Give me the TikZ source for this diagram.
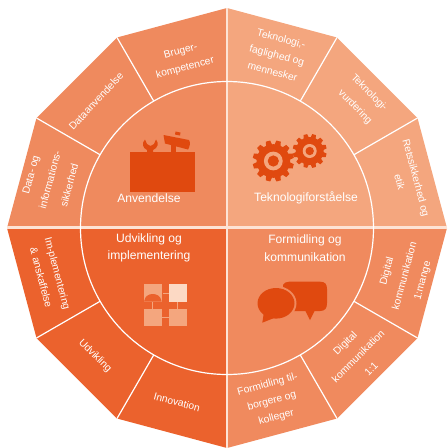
\documentclass[tikz,border=0pt]{standalone}
\usepackage{fontspec}
\setmainfont{Liberation Sans}
\usetikzlibrary{calc}
\definecolor{qa}{HTML}{EF8A5E}
\definecolor{qb}{HTML}{F4A67E}
\definecolor{qc}{HTML}{EB622D}
\definecolor{qd}{HTML}{F08A5E}
\definecolor{ic}{HTML}{E0490F}
\definecolor{pa}{HTML}{F4A67E}
\definecolor{pb}{HTML}{FCD9C4}
\definecolor{band}{HTML}{FDE3D5}
\tikzset{
  sep/.style={draw=white,line width=1.2pt},
  lab/.style={text=white,font=\fontsize{10.3}{17}\selectfont,align=center,inner sep=0pt},
  labm/.style={text=white,font=\fontsize{10.3}{18.5}\selectfont,align=center,inner sep=0pt},
  labw/.style={text=white,font=\fontsize{10.3}{20}\selectfont,align=center,inner sep=0pt},
  big/.style={text=white,font=\fontsize{12.1}{17.5}\selectfont,align=center,inner sep=0pt},
}
\newcommand{\mygear}[4]{% cx cy outer body
  \fill[ic] (#1,#2) circle (#4);
  \foreach \t in {0,30,...,330}{
    \fill[ic,shift={(#1,#2)},rotate=\t+15,line join=round] (-#3*0.16,-#4*0.9) -- (-#3*0.11,-#3) -- (#3*0.11,-#3) -- (#3*0.16,-#4*0.9) -- cycle;
  }
}
\begin{document}
\begin{tikzpicture}[x=1pt,y=-1pt]
\useasboundingbox (0,0) rectangle (448,448);
\coordinate (c) at (227,228);
% quarters
\fill[qa] (c)--(7,228)--(36.5,118)--(117,37.5)--(227,8)--cycle;
\fill[qb] (c)--(227,8)--(337,37.5)--(417.5,118)--(447,228)--cycle;
\fill[qc] (c)--(7,228)--(36.5,338)--(117,418.5)--(227,448)--cycle;
\fill[qd] (c)--(227,448)--(337,418.5)--(417.5,338)--(447,228)--cycle;
% separators
\draw[draw=band,line width=2.6pt] (7,227.5)--(447,227.5);
\draw[draw=band,line width=2.4pt] (227,8)--(227,448);
\draw[sep] (c) circle (146.5);
\foreach \a in {30,60,120,150,210,240,300,330}{
  \draw[sep] ($(c)+(\a:146.5)$) -- ($(c)+(\a:220)$);
}
% toolbox icon
\fill[ic] (130,152) rectangle (195,192);
\fill[ic] (147,153) -- (147,150) .. controls (142.5,148) and (141.5,143) .. (145,139.5)
  -- (147,144) -- (150.5,146) -- (154,144) -- (156,139.5) .. controls (159,143) and (158,148) .. (153,150) -- (153,153) -- cycle;
\fill[ic] (163.5,135) -- (189,140) .. controls (190.5,142) and (190,147) .. (188,149.5) -- (165,143.5) -- cycle;
\fill[ic] (171,144) rectangle (175.5,153);
\fill[ic] (175.5,131.5) -- (180.5,132.5) -- (180,135.5) -- (175,134.5) -- cycle;
% gears
\mygear{273.3}{161}{20.6}{16.8}
\fill[qb] (273.3,161) circle (9.4);
\fill[ic] (273.3,161) circle (5.6);
\mygear{309.7}{151}{17}{14}
\fill[qb] (309.7,151) circle (7);
\fill[ic] (309.7,151) circle (4.2);
% puzzle icon
\fill[pa] (144,284) rectangle (161.7,301.7);
\fill[qc] (144,301.7) -- (144.5,300) .. controls (146,292) and (159.5,292) .. (161.2,300) -- (161.7,301.7) -- cycle;
\fill[pb] (168.7,284) rectangle (186.7,301.7);
\fill[pa] (144,308.7) rectangle (161.7,326);
\fill[pa] (168.7,308.7) rectangle (186.7,326);
\fill[pa] (162.5,292.5) rectangle (168.7,293.5);
\fill[pa] (177.3,301.7) rectangle (178.3,308.7);
\fill[pa] (161.7,316.8) rectangle (168.7,317.8);
\fill[pa] (152.2,302) rectangle (153.4,308.7);
% speech bubbles
\fill[ic] (289,281.7) -- (320,281.7) .. controls (325,281.7) and (327,284) .. (327,289) -- (327,303)
  .. controls (327,308.5) and (325,311) .. (320,311) -- (314.5,311) -- (310,320) -- (305.5,311) -- (285,311) -- (283,285) .. controls (284,283) and (286,281.7) .. (289,281.7) -- cycle;
\fill[qd] (276,303.3) ellipse (20.5 and 17.3);
\fill[ic] (276,303.3) ellipse (18.5 and 15.3);
\fill[ic] (264,312) -- (262.3,322.7) -- (274,318) -- cycle;
% centre titles
\node[big] (t1) at (149,198) {Anvendelse};
\node[big] (t2) at (306,198) {Teknologiforståelse};
\node[big] (t3) at (149,248) {Udvikling og\\implementering};
\node[big] (t4) at (305,248) {Formidling og\\kommunikation};
% ring labels
\node[lab,rotate=15] (l1) at (183,60) {Bruger-\\kompetencer};
\node[lab,rotate=47] (l2) at (96,101) {Dataanvendelse};
\node[labw,rotate=75] (l3) at (50,180) {Data- og\\informations-\\sikkerhed};
\node[lab,rotate=-15] (l4) at (277,55) {Teknologi,-\\faglighed og\\mennesker};
\node[labw,rotate=-45] (l5) at (362,100) {Teknologi-\\vurdering};
\node[lab,rotate=-75] (l6) at (408,180) {Retssikkerhed og\\etik};
\node[labm,rotate=75] (l7) at (405,276) {Digital\\kommunikation\\1:mange};
\node[labm,rotate=45] (l8) at (358,356) {Digital\\kommunikation\\1:1};
\node[lab,rotate=15] (l9) at (272,401) {Formidling til-\\borgere og\\kolleger};
\node[lab,rotate=-75] (l10) at (49.5,275.5) {Im-plementering\\\& anskaffelse};
\node[lab,rotate=-45] (l11) at (95,356) {Udvikling};
\node[lab,rotate=-15] (l12) at (177,402) {Innovation};
\end{tikzpicture}
\end{document}
